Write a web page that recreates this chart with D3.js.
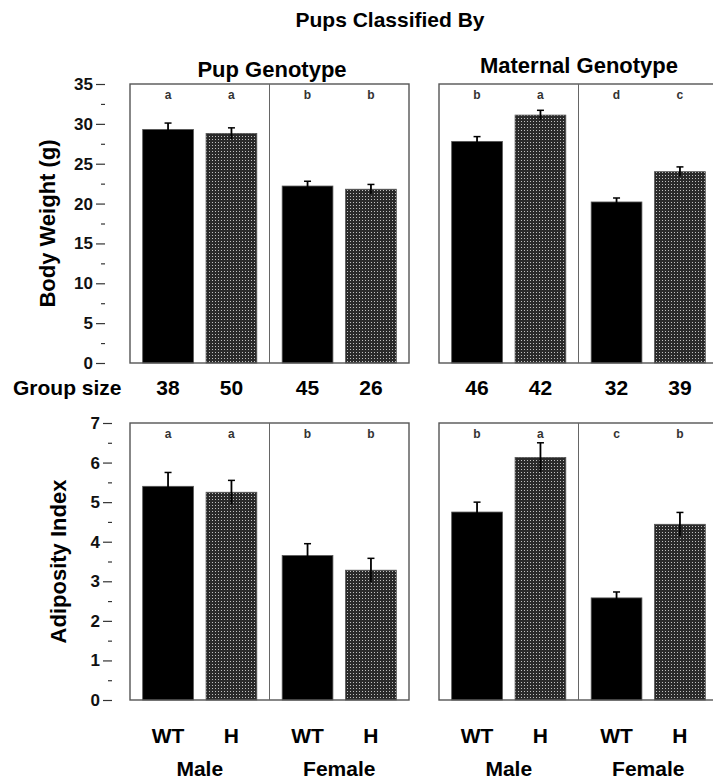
<!DOCTYPE html>
<html>
<head>
<meta charset="utf-8">
<script src="https://cdn.jsdelivr.net/npm/d3@7"></script>
<style>
  body { margin: 0; background: #fff; overflow: hidden; }
  svg { font-family: "Liberation Sans", Arial, Helvetica, sans-serif; font-weight: bold; }
  .axis text { font-size: 17px; font-weight: bold; fill: #111; }
  .axis .tick line { stroke: #333; stroke-width: 1.2; }
  .axis .domain { display: none; }
</style>
</head>
<body>
<div id="chart"></div>
<script>
// data
var sexes = ["Male", "Female"];
var genotypes = ["WT", "H"];

var weightPup = [29.3, 28.8, 22.2, 21.8];
var weightPupErr = [0.8, 0.7, 0.6, 0.6];
var weightPupLetters = ["a", "a", "b", "b"];

var weightMat = [27.8, 31.1, 20.2, 24.0];
var weightMatErr = [0.6, 0.6, 0.5, 0.6];
var weightMatLetters = ["b", "a", "d", "c"];

var adipPup = [5.4, 5.25, 3.65, 3.28];
var adipPupErr = [0.35, 0.3, 0.3, 0.3];
var adipPupLetters = ["a", "a", "b", "b"];

var adipMat = [4.75, 6.13, 2.58, 4.44];
var adipMatErr = [0.25, 0.37, 0.15, 0.3];
var adipMatLetters = ["b", "a", "c", "b"];

var groupSizePup = [38, 50, 45, 26];
var groupSizeMat = [46, 42, 32, 39];

var weightTicks = [0, 5, 10, 15, 20, 25, 30, 35];
var adipTicks = [0, 1, 2, 3, 4, 5, 6, 7];

var width = 713, height = 781;
var panelW = 279;
var panelLeft = [130, 439];

var svg = d3.select("#chart").append("svg")
  .attr("width", width)
  .attr("height", height);

// dotted mesh fill for the H bars
var defs = svg.append("defs");
var pat = defs.append("pattern")
  .attr("id", "mesh")
  .attr("patternUnits", "userSpaceOnUse")
  .attr("width", 3)
  .attr("height", 3);
pat.append("rect").attr("width", 3).attr("height", 3).attr("fill", "#2a2a2a");
pat.append("rect").attr("x", 1).attr("y", 1).attr("width", 1).attr("height", 1).attr("fill", "#c0c0c0");

var xOuter = d3.scaleBand().domain(sexes).range([0, panelW]).padding(0);
var xInner = d3.scaleBand().domain(genotypes).range([0, xOuter.bandwidth()])
  .paddingInner(0.2).paddingOuter(0.2);

var rows = function(vals, errs, letters) {
  var out = [];
  sexes.forEach(function(s, si) {
    genotypes.forEach(function(g, gi) {
      var i = si * 2 + gi;
      out.push({ sex: s, geno: g, value: vals[i], err: errs[i], letter: letters[i] });
    });
  });
  return out;
};

var barX = d => xOuter(d.sex) + xInner(d.geno);
var barC = d => barX(d) + xInner.bandwidth() / 2;

var drawPanel = function(opt) {
  var g = svg.append("g").attr("transform", `translate(${opt.left},0)`);
  var y = opt.y;

  g.selectAll("rect.bar")
    .data(opt.data)
    .enter()
    .append("rect")
    .attr("class", "bar")
    .attr("x", barX)
    .attr("width", xInner.bandwidth())
    .attr("y", d => y(d.value))
    .attr("height", d => y(0) - y(d.value))
    .attr("fill", d => d.geno == "WT" ? "#000" : "url(#mesh)")
    .attr("stroke", "#555")
    .attr("stroke-width", 0.8);

  // error bars
  var eb = g.selectAll("g.err")
    .data(opt.data)
    .enter()
    .append("g")
    .attr("class", "err");
  eb.append("line")
    .attr("x1", barC).attr("x2", barC)
    .attr("y1", d => y(d.value + d.err))
    .attr("y2", d => y(d.value - d.err))
    .attr("stroke", "#000")
    .attr("stroke-width", 1.8);
  eb.append("line")
    .attr("x1", d => barC(d) - 3.5).attr("x2", d => barC(d) + 3.5)
    .attr("y1", d => y(d.value + d.err))
    .attr("y2", d => y(d.value + d.err))
    .attr("stroke", "#000")
    .attr("stroke-width", 1.5);

  // frame and divider
  g.append("rect")
    .attr("x", 0).attr("y", y.range()[1])
    .attr("width", panelW).attr("height", y.range()[0] - y.range()[1])
    .attr("fill", "none")
    .attr("stroke", "#555")
    .attr("stroke-width", 1.4);
  g.append("line")
    .attr("x1", xOuter("Female")).attr("x2", xOuter("Female"))
    .attr("y1", y.range()[1]).attr("y2", y.range()[0])
    .attr("stroke", "#666")
    .attr("stroke-width", 1);

  // significance letters
  g.selectAll("text.letter")
    .data(opt.data)
    .enter()
    .append("text")
    .attr("class", "letter")
    .attr("x", barC)
    .attr("y", y.range()[1] + 15)
    .attr("text-anchor", "middle")
    .style("font-size", "12px")
    .style("fill", "#333")
    .text(d => d.letter);

  if (opt.sizes) {
    g.selectAll("text.size")
      .data(opt.data)
      .enter()
      .append("text")
      .attr("class", "size")
      .attr("x", barC)
      .attr("y", 395)
      .attr("text-anchor", "middle")
      .style("font-size", "21px")
      .text((d, i) => opt.sizes[i]);
  }

  if (opt.xlabels) {
    g.selectAll("text.geno")
      .data(opt.data)
      .enter()
      .append("text")
      .attr("x", barC)
      .attr("y", 743)
      .attr("text-anchor", "middle")
      .style("font-size", "21px")
      .text(d => d.geno);
    g.selectAll("text.sex")
      .data(sexes)
      .enter()
      .append("text")
      .attr("x", d => xOuter(d) + xOuter.bandwidth() / 2)
      .attr("y", 776)
      .attr("text-anchor", "middle")
      .style("font-size", "21px")
      .text(d => d);
  }
};

var drawAxis = function(y, ticks, axisX, title, titleX) {
  var step = ticks[1] - ticks[0];
  var minor = ticks.slice(0, -1).map(t => t + step / 2);
  svg.append("g")
    .attr("class", "axis")
    .attr("transform", `translate(${axisX},0)`)
    .call(d3.axisLeft(y).tickValues(ticks).tickSize(9).tickPadding(3).tickFormat(d3.format("d")));
  svg.append("g")
    .attr("class", "axis")
    .attr("transform", `translate(${axisX},0)`)
    .call(d3.axisLeft(y).tickValues(minor).tickSize(4).tickFormat(""));
  var mid = (y.range()[0] + y.range()[1]) / 2;
  svg.append("text")
    .attr("transform", `translate(${titleX},${mid}) rotate(-90)`)
    .attr("text-anchor", "middle")
    .style("font-size", "22px")
    .text(title);
};

// top row: body weight
var yWeight = d3.scaleLinear().domain([0, 35]).range([363, 84]);
drawAxis(yWeight, weightTicks, 105, "Body Weight (g)", 55);
drawPanel({ left: panelLeft[0], y: yWeight, data: rows(weightPup, weightPupErr, weightPupLetters), sizes: groupSizePup });
drawPanel({ left: panelLeft[1], y: yWeight, data: rows(weightMat, weightMatErr, weightMatLetters), sizes: groupSizeMat });

// bottom row: adiposity
var yAdip = d3.scaleLinear().domain([0, 7]).range([700, 423]);
drawAxis(yAdip, adipTicks, 112, "Adiposity Index", 66);
drawPanel({ left: panelLeft[0], y: yAdip, data: rows(adipPup, adipPupErr, adipPupLetters), xlabels: true });
drawPanel({ left: panelLeft[1], y: yAdip, data: rows(adipMat, adipMatErr, adipMatLetters), xlabels: true });

// titles
svg.append("text")
  .attr("x", 390).attr("y", 27)
  .attr("text-anchor", "middle")
  .style("font-size", "21px")
  .text("Pups Classified By");
svg.append("text")
  .attr("x", 272).attr("y", 77)
  .attr("text-anchor", "middle")
  .style("font-size", "22px")
  .text("Pup Genotype");
svg.append("text")
  .attr("x", 579).attr("y", 73)
  .attr("text-anchor", "middle")
  .style("font-size", "22px")
  .text("Maternal Genotype");
svg.append("text")
  .attr("x", 13).attr("y", 395)
  .style("font-size", "21px")
  .text("Group size");
</script>
</body>
</html>
